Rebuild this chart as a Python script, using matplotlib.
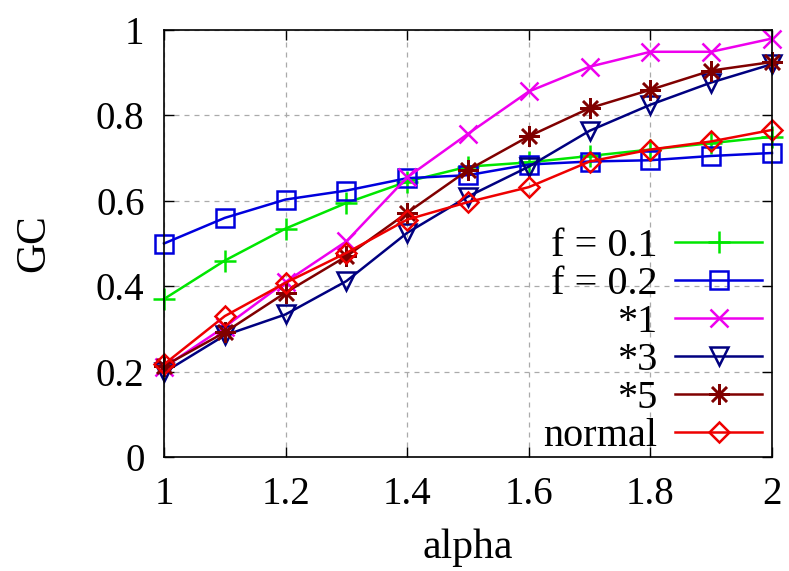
import matplotlib
matplotlib.use("Agg")
import matplotlib.pyplot as plt

alpha = [1.0, 1.1, 1.2, 1.3, 1.4, 1.5, 1.6, 1.7, 1.8, 1.9, 2.0]
f01 = [0.37, 0.46, 0.535, 0.595, 0.645, 0.68, 0.69, 0.705, 0.72, 0.735, 0.75]
f02 = [0.50, 0.56, 0.603, 0.624, 0.653, 0.66, 0.685, 0.692, 0.695, 0.705, 0.712]
s1 = [0.21, 0.305, 0.41, 0.505, 0.655, 0.757, 0.856, 0.914, 0.949, 0.949, 0.98]
s3 = [0.198, 0.285, 0.334, 0.412, 0.525, 0.61, 0.68, 0.764, 0.825, 0.877, 0.92]
s5 = [0.213, 0.292, 0.385, 0.47, 0.572, 0.672, 0.751, 0.817, 0.86, 0.905, 0.925]
normal = [0.217, 0.33, 0.408, 0.478, 0.556, 0.597, 0.632, 0.692, 0.72, 0.739, 0.766]

labels = ["f = 0.1", "f = 0.2", "*1", "*3", "*5", "normal"]
xticks = [1, 1.2, 1.4, 1.6, 1.8, 2]
xticklabels = ["1", "1.2", "1.4", "1.6", "1.8", "2"]
yticks = [0, 0.2, 0.4, 0.6, 0.8, 1]
yticklabels = ["0", "0.2", "0.4", "0.6", "0.8", "1"]

plt.rcParams['font.family'] = ['Liberation Serif', 'DejaVu Serif']

fig = plt.figure(figsize=(7.89, 5.71), dpi=100)
ax = fig.add_axes([164/789, 1 - 457/571, (772-164)/789, (457-30)/571])

series = [f01, f02, s1, s3, s5, normal]
styles = [
    dict(color='#00e600', marker='+', ms=16, mew=1.8),
    dict(color='#0000dd', marker='s', ms=13, mew=1.8, mfc='none'),
    dict(color='#ee00ee', marker='x', ms=13, mew=1.8),
    dict(color='#000080', marker='v', ms=13, mew=1.8, mfc='none'),
    dict(color='#800000', marker=(8, 2, 0), ms=15, mew=1.8),
    dict(color='#ee0000', marker='D', ms=10, mew=1.8, mfc='none'),
]
handles = []
for ys, st, lab in zip(series, styles, labels):
    h, = ax.plot(alpha, ys, lw=1.8, label=lab, clip_on=False, **st)
    handles.append(h)

ax.set_xlim(1, 2)
ax.set_ylim(0, 1)
ax.set_xticks(xticks)
ax.set_xticklabels(xticklabels)
ax.set_yticks(yticks)
ax.set_yticklabels(yticklabels)
ax.tick_params(direction='in', length=7, width=1, labelsize=28, top=True, right=True, pad=14)
ax.grid(True, color='#aaaaaa', linestyle=(0, (4, 4)), linewidth=0.9)
for sp in ax.spines.values():
    sp.set_linewidth(1.2)

ax.set_xlabel("alpha", fontsize=30, labelpad=11)
ax.set_ylabel("GC", fontsize=30, labelpad=31)

leg = ax.legend(handles=handles, loc='lower right', bbox_to_anchor=(0.987, 0.0),
                markerfirst=False, frameon=False,
                fontsize=29, handlelength=2.15, handletextpad=0.45, labelspacing=0.02,
                borderpad=0, borderaxespad=0.05)
for t in leg.get_texts():
    t.set_ha('right')
leg._legend_box.align = "right"

fig.savefig("out.png", dpi=100)
